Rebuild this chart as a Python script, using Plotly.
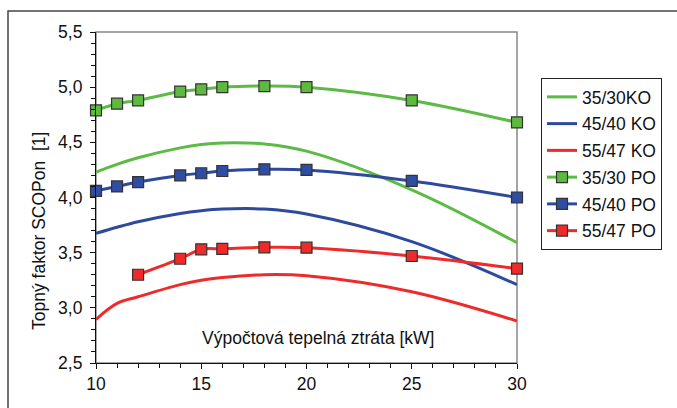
import plotly.graph_objects as go

x_ko = [10, 11, 12, 14, 15, 16, 18, 20, 25, 30]
ko_35_30 = [4.23, 4.30, 4.36, 4.45, 4.48, 4.495, 4.485, 4.42, 4.07, 3.59]
ko_45_40 = [3.675, 3.73, 3.78, 3.855, 3.88, 3.895, 3.895, 3.85, 3.60, 3.21]
ko_55_47 = [2.895, 3.04, 3.10, 3.21, 3.25, 3.275, 3.30, 3.29, 3.145, 2.88]

x_po = [10, 11, 12, 14, 15, 16, 18, 20, 25, 30]
po_35_30 = [4.79, 4.85, 4.88, 4.96, 4.98, 5.00, 5.01, 5.00, 4.88, 4.68]
po_45_40 = [4.06, 4.10, 4.14, 4.20, 4.22, 4.24, 4.255, 4.25, 4.15, 4.00]
x_po_55 = [12, 14, 15, 16, 18, 20, 25, 30]
po_55_47 = [3.30, 3.445, 3.53, 3.535, 3.548, 3.545, 3.47, 3.355]

GREEN = "#5cbb44"
BLUE = "#2d4a9d"
RED = "#ee2b2b"
FONT = "Liberation Sans, Arial, sans-serif"
FS = 17.5

fig = go.Figure()

def add_line(x, y, name, color, markers=False, fill=None):
    fig.add_trace(go.Scatter(
        x=x, y=y, name=name, legendgroup=name,
        mode="lines+markers" if markers else "lines",
        line=dict(color=color, width=3, shape="spline"),
        marker=dict(symbol="square", size=11, color=fill or color,
                    line=dict(color="#333333", width=1.2)) if markers else None,
        cliponaxis=False,
    ))

add_line(x_ko, ko_35_30, "35/30KO", GREEN)
add_line(x_ko, ko_45_40, "45/40 KO", BLUE)
add_line(x_ko, ko_55_47, "55/47 KO", RED)
add_line(x_po, po_35_30, "35/30 PO", GREEN, True, "#5dba3f")
add_line(x_po, po_45_40, "45/40 PO", BLUE, True, "#2f4ea3")
add_line(x_po_55, po_55_47, "55/47 PO", RED, True, "#ef2a2a")

L, R, T, B = 96, 160, 32, 45
pw = 677 - L - R
ph = 408 - T - B

fig.update_layout(
    width=677, height=408,
    margin=dict(l=L, r=R, t=T, b=B),
    paper_bgcolor="white", plot_bgcolor="white",
    separators=", ",
    font=dict(family=FONT, size=FS, color="#111111"),
    showlegend=True,
    legend=dict(
        x=(541 - L) / pw, y=(363 - 78) / ph, xanchor="left", yanchor="top",
        bordercolor="#222222", borderwidth=1, bgcolor="white",
        font=dict(family=FONT, size=FS, color="#111111"),
        tracegroupgap=1, itemwidth=30,
    ),
    xaxis=dict(
        range=[10, 30], tickvals=[10, 15, 20, 25, 30],
        showgrid=False, zeroline=False,
        showline=True, linecolor="#111111", linewidth=1.2,
        ticks="outside", ticklen=5, tickcolor="#111111", tickwidth=1,
        minor=dict(dtick=1, ticks="outside", ticklen=4, tickcolor="#111111", tickwidth=1, showgrid=False),
        tickfont=dict(family=FONT, size=FS, color="#111111"),
    ),
    yaxis=dict(
        range=[2.5, 5.5], dtick=0.5, tickformat=".1f",
        showgrid=False, zeroline=False,
        showline=True, linecolor="#111111", linewidth=1.2,
        ticks="outside", ticklen=5, tickcolor="#111111", tickwidth=1,
        minor=dict(dtick=0.1, ticks="outside", ticklen=4, tickcolor="#111111", tickwidth=1, showgrid=False),
        tickfont=dict(family=FONT, size=FS, color="#111111"),
        ticklabelstandoff=4,
    ),
    shapes=[
        dict(type="rect", xref="x domain", yref="y domain", x0=0, x1=1, y0=0, y1=1,
             line=dict(color="#888888", width=1.5), layer="below"),
        dict(type="rect", xref="paper", yref="paper",
             x0=(8 - L) / pw, x1=(690 - L) / pw, y0=(363 - 420) / ph, y1=(363 - 11) / ph,
             line=dict(color="#444444", width=1.5), layer="below"),
    ],
    annotations=[
        dict(text="Výpočtová tepelná ztráta [kW]", x=20.55, y=2.73, xref="x", yref="y",
             showarrow=False, font=dict(family=FONT, size=FS, color="#111111")),
        dict(text="Topný faktor SCOPon  [1]", x=(27 - L) / pw, y=(363 - 231) / ph,
             xref="paper", yref="paper", textangle=-90, showarrow=False,
             font=dict(family=FONT, size=FS, color="#111111")),
    ],
)

fig.write_html("out.html")
